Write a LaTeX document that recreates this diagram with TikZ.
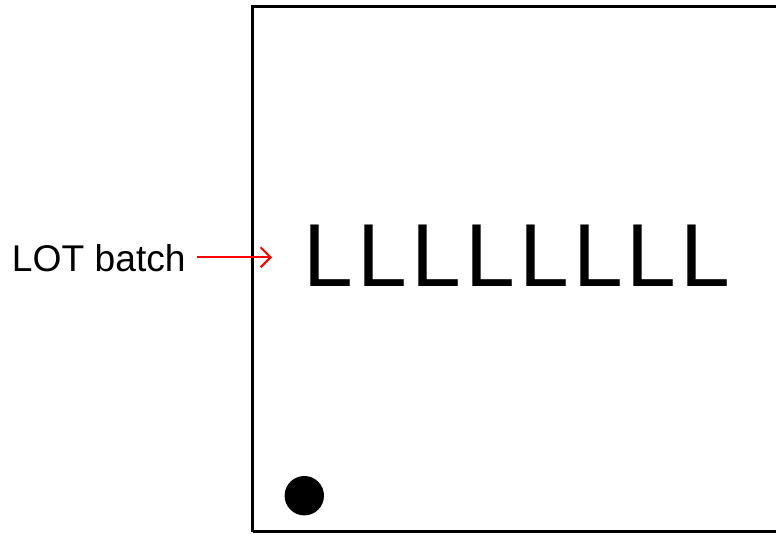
\documentclass[tikz,border=0pt]{standalone}
\usepackage{fontspec}
\setmainfont{Liberation Sans}
\usepackage{tikz}
\usepackage{xcolor}
\usetikzlibrary{calc,arrows.meta}

\begin{document}
\begin{tikzpicture}[x=1pt,y=-1pt]
        \tikzstyle{every node}=[inner sep=0pt,outer sep=0pt]
        \tikzstyle{marking}=[anchor=base west,font=\fontsize{89.4}{100}\selectfont\addfontfeature{LetterSpace=4.7}]
        \useasboundingbox (0,0) rectangle (776,534);
        \clip (0,0) rectangle (776,534);
        % package outline
        \draw[line width=2.2pt] (252.5,531.5) -- (252.5,6.5) -- (790,6.5);
        \draw[line width=2.2pt] (252.5,531.5) -- (790,531.5);
        \fill (304.3,495.7) circle (19.7);
        % marking and label
        \node[marking] (lots) at (303.5,287) {LLLLLLLL};
        \node[anchor=base west,font=\fontsize{37.2}{40}\selectfont] (lot) at (12,272) {LOT batch};
        \coordinate (tip) at (272,257.3);
        \draw[red,line width=2pt,-{Straight Barb[length=10pt,width=20pt]}] ($(lot.east |- tip) + (11,0)$) -- (tip);
    \end{tikzpicture}
\end{document}
